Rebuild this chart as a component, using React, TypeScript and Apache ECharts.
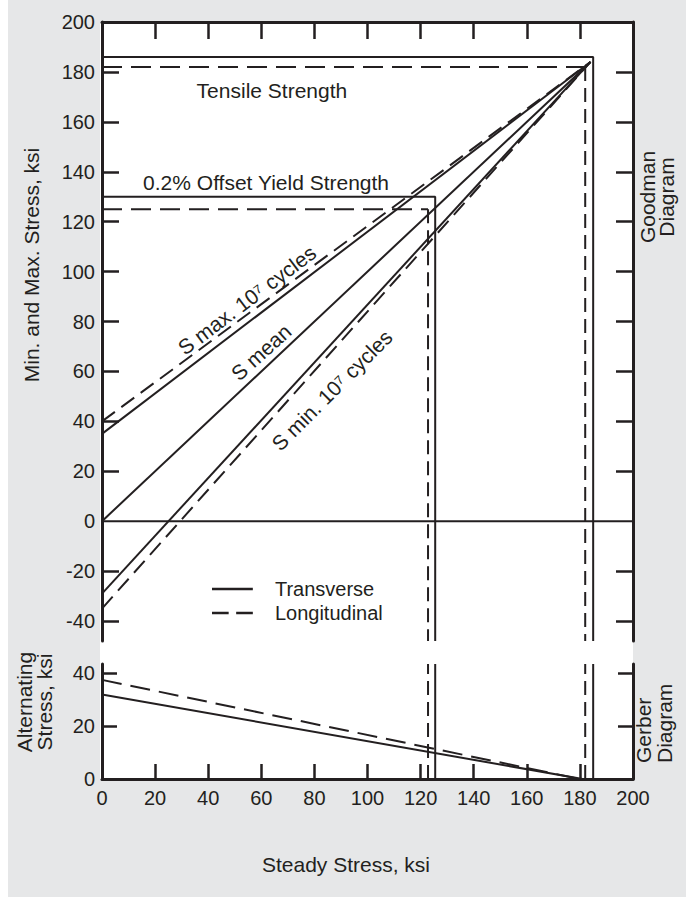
import React, { useEffect, useRef } from "react";
import * as echarts from "echarts";

// ---------- data ----------
const xTickLabels = [0, 20, 40, 60, 80, 100, 120, 140, 160, 180, 200];
const innerXTicks = [20, 40, 60, 80, 100, 120, 140, 160, 180];
const goodmanYLabels = [-40, -20, 0, 20, 40, 60, 80, 100, 120, 140, 160, 180, 200];
const goodmanYTicks = [-40, -20, 20, 40, 60, 80, 100, 120, 140, 160, 180];
const gerberYLabels = [0, 20, 40];
const gerberYTicks = [20, 40];

const GOODMAN_MIN = -48;
const GOODMAN_MAX = 200;
const GERBER_MAX = 43.5;

// Goodman diagram, transverse (solid)
const tensileTransverse = [[0, 186], [185, 186], [185, -48]];
const yieldTransverse = [[0, 130], [125.5, 130], [125.5, -48]];
const sMaxTransverse = [[0, 35], [184, 184]];
const sMean = [[0, 0], [184, 184]];
const sMinTransverse = [[0, -29], [184, 184]];
const zeroLine = [[0, 0], [200, 0]];

// Goodman diagram, longitudinal (dashed)
const tensileLongH = [[0, 182], [182, 182]];
const tensileLongV = [[182, 182], [182, -48]];
const yieldLongH = [[0, 125], [122.8, 125]];
const yieldLongV = [[122.8, 125], [122.8, -48]];
const sMaxLong = [[0, 40], [184, 184]];
const sMinLong = [[0, -35], [184, 184]];

// Gerber diagram
const gerberTransverse = [[0, 32], [181, 0]];
const gerberLong = [[0, 37.5], [180, 0]];
const gerberYieldT = [[125.5, 0], [125.5, 43.5]];
const gerberTensileT = [[185, 0], [185, 43.5]];
const gerberYieldL = [[122.8, 0], [122.8, 43.5]];
const gerberTensileL = [[182, 0], [182, 43.5]];

// annotations on the Goodman diagram: text, anchor (data), rotation
const annotationTexts = [
  "Tensile Strength",
  "0.2% Offset Yield Strength",
  "S max. 10⁷ cycles",
  "S mean",
  "S min. 10⁷ cycles",
];
const annotationAnchors = [
  [64, 172.7],
  [61.8, 135.5],
  [54.6, 88.6],
  [59.9, 67.7],
  [86.6, 52.5],
];
const annotationRotations = [0, 0, 37, 42, 45];

// legend entries
const legendNames = ["Transverse", "Longitudinal"];

// ---------- style ----------
const FONT = "'Liberation Sans', Arial, Helvetica, sans-serif";
const INK = "#231f20";
const GRAY = "#e6e7e8";
const FS = 20;
const FS_T = 21;

function lineSeries(name: string, data: number[][], dash: any, grid: number) {
  return {
    type: "line",
    name,
    data,
    symbol: "none",
    silent: true,
    xAxisIndex: grid === 0 ? 0 : 1,
    yAxisIndex: grid === 0 ? 0 : 2,
    lineStyle: { color: INK, width: 2, type: dash },
    itemStyle: { color: INK },
    z: 3,
  };
}

const tickStyle = (len: number, values: number[]) => ({
  show: true,
  inside: true,
  length: len,
  customValues: values,
  lineStyle: { color: INK, width: 2.5 },
});

const axisLine = { show: true, onZero: false, lineStyle: { color: INK, width: 3 } };

const rotText = (text: string, x: number, y: number, align: string) => ({
  type: "text",
  x,
  y,
  rotation: Math.PI / 2,
  silent: true,
  style: { text, fill: INK, fontSize: FS_T, fontFamily: FONT, align, verticalAlign: "middle" },
});

export default function App() {
  const ref = useRef<HTMLDivElement>(null);

  useEffect(() => {
    const chart = echarts.init(ref.current!, null, { renderer: "svg" });

    const option: any = {
      animation: false,
      backgroundColor: "transparent",
      textStyle: { fontFamily: FONT },
      grid: [
        { left: 102, top: 22, width: 531, height: 619, containLabel: false, outerBoundsMode: "none" },
        { left: 102, top: 664, width: 531, height: 115, containLabel: false, outerBoundsMode: "none" },
      ],
      xAxis: [
        {
          type: "value",
          gridIndex: 0,
          position: "top",
          min: 0,
          max: 200,
          axisLine,
          axisTick: tickStyle(17, innerXTicks),
          axisLabel: { show: false },
          splitLine: { show: false },
        },
        {
          type: "value",
          gridIndex: 1,
          position: "bottom",
          min: 0,
          max: 200,
          interval: 20,
          axisLine,
          axisTick: tickStyle(15, innerXTicks),
          axisLabel: {
            show: true,
            customValues: xTickLabels,
            color: INK,
            fontSize: FS,
            fontFamily: FONT,
            margin: 9,
          },
          splitLine: { show: false },
        },
      ],
      yAxis: [
        {
          type: "value",
          gridIndex: 0,
          position: "left",
          min: GOODMAN_MIN,
          max: GOODMAN_MAX,
          axisLine,
          axisTick: tickStyle(17, goodmanYTicks),
          axisLabel: {
            show: true,
            customValues: goodmanYLabels,
            color: INK,
            fontSize: FS,
            fontFamily: FONT,
            margin: 7,
          },
          splitLine: { show: false },
        },
        {
          type: "value",
          gridIndex: 0,
          position: "right",
          min: GOODMAN_MIN,
          max: GOODMAN_MAX,
          axisLine,
          axisTick: tickStyle(17, goodmanYTicks),
          axisLabel: { show: false },
          splitLine: { show: false },
        },
        {
          type: "value",
          gridIndex: 1,
          position: "left",
          min: 0,
          max: GERBER_MAX,
          axisLine,
          axisTick: tickStyle(15, gerberYTicks),
          axisLabel: {
            show: true,
            customValues: gerberYLabels,
            color: INK,
            fontSize: FS,
            fontFamily: FONT,
            margin: 7,
          },
          splitLine: { show: false },
        },
        {
          type: "value",
          gridIndex: 1,
          position: "right",
          min: 0,
          max: GERBER_MAX,
          axisLine,
          axisTick: tickStyle(15, gerberYTicks),
          axisLabel: { show: false },
          splitLine: { show: false },
        },
      ],
      legend: {
        data: [
          { name: legendNames[0], icon: "path://M0 0H49V3H0Z" },
          { name: legendNames[1], icon: "path://M0 0H20V3H0ZM29 0H49V3H29Z" },
        ],
        orient: "vertical",
        left: 212,
        top: 578,
        itemWidth: 49,
        itemHeight: 2.5,
        itemGap: 2,
        padding: 0,
        selectedMode: false,
        itemStyle: { color: INK, borderWidth: 0 },
        textStyle: { color: INK, fontSize: FS, fontFamily: FONT, lineHeight: 22, padding: [0, 0, 0, 13] },
      },
      series: [
        lineSeries("zero", zeroLine, "solid", 0),
        lineSeries(legendNames[0], tensileTransverse, "solid", 0),
        lineSeries("yieldT", yieldTransverse, "solid", 0),
        lineSeries("sMaxT", sMaxTransverse, "solid", 0),
        lineSeries("sMean", sMean, "solid", 0),
        lineSeries("sMinT", sMinTransverse, "solid", 0),
        lineSeries(legendNames[1], tensileLongH, [20, 9], 0),
        lineSeries("tensileLV", tensileLongV, [14, 7], 0),
        lineSeries("yieldLH", yieldLongH, [20, 9], 0),
        lineSeries("yieldLV", yieldLongV, [14, 7], 0),
        lineSeries("sMaxL", sMaxLong, [16, 8], 0),
        lineSeries("sMinL", sMinLong, [16, 8], 0),
        lineSeries("gerberT", gerberTransverse, "solid", 1),
        lineSeries("gerberL", gerberLong, [20, 9], 1),
        lineSeries("gerberYieldT", gerberYieldT, "solid", 1),
        lineSeries("gerberTensileT", gerberTensileT, "solid", 1),
        lineSeries("gerberYieldL", gerberYieldL, [14, 7], 1),
        lineSeries("gerberTensileL", gerberTensileL, [14, 7], 1),
        {
          type: "scatter",
          name: "annotations",
          xAxisIndex: 0,
          yAxisIndex: 0,
          symbolSize: 1,
          silent: true,
          itemStyle: { color: "rgba(0,0,0,0)", opacity: 1 },
          z: 5,
          data: annotationTexts.map((t, i) => ({
            value: annotationAnchors[i],
            label: {
              show: true,
              formatter: t,
              position: "inside",
              rotate: annotationRotations[i],
              color: INK,
              opacity: 1,
              fontSize: FS_T,
              fontFamily: FONT,
              align: "center",
              verticalAlign: "middle",
            },
          })),
        },
      ],
      graphic: [
        { type: "rect", z: -20, silent: true, shape: { x: 8, y: 0, width: 678, height: 897 }, style: { fill: GRAY } },
        { type: "rect", z: -19, silent: true, shape: { x: 100, y: 22, width: 533, height: 757 }, style: { fill: "#ffffff" } },
        rotText("Min. and Max. Stress, ksi", 31, 265, "center"),
        rotText("Alternating", 24, 702, "center"),
        rotText("Stress, ksi", 44.5, 702, "center"),
        rotText("Goodman", 647, 197, "center"),
        rotText("Diagram", 666, 197, "center"),
        rotText("Gerber", 643, 763, "left"),
        rotText("Diagram", 664, 763, "left"),
        {
          type: "text", x: 346, y: 864, silent: true,
          style: { text: "Steady Stress, ksi", fill: INK, fontSize: FS_T, fontFamily: FONT, align: "center", verticalAlign: "middle" },
        },
      ],
    };

    chart.setOption(option);
    return () => chart.dispose();
  }, []);

  return (
    <div style={{ position: "absolute", left: 0, top: 0, width: 686, height: 897, background: "#ffffff" }}>
      <div ref={ref} style={{ width: 686, height: 897 }} />
    </div>
  );
}
